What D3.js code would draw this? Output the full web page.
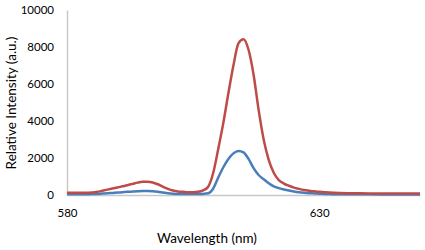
<!DOCTYPE html>
<html>
<head>
<meta charset="utf-8">
<script src="https://cdn.jsdelivr.net/npm/d3@7"></script>
<style>
  body { margin: 0; background: #fff; }
  text { font-family: Lato, "Open Sans", sans-serif; fill: #000; }
</style>
</head>
<body>
<svg id="chart"></svg>
<script>
const wavelengths = [
  580, 581, 582, 583, 584, 585, 586, 587, 588, 589, 590, 591, 592, 593, 594, 595,
  596, 597, 598, 599, 600, 601, 602, 603, 604, 605, 606, 607, 608, 609, 610, 611,
  612, 613, 614, 615, 616, 617, 618, 619, 620, 621, 622, 623, 624, 625, 626, 627,
  628, 629, 630, 631, 632, 633, 634, 636, 638, 640, 645, 650
];
const redSeries = [
  120, 120, 120, 120, 125, 135, 170, 230, 290, 350, 410, 470, 530, 600, 670, 715,
  720, 680, 580, 450, 330, 240, 190, 170, 150, 150, 170, 250, 450, 1200, 2500, 3900,
  5500, 7000, 8200, 8420, 7850, 6500, 4600, 3000, 1900, 1200, 800, 620, 500, 400, 330, 270,
  230, 200, 170, 150, 130, 115, 105, 95, 90, 85, 80, 80
];
const blueSeries = [
  40, 40, 40, 42, 45, 50, 60, 75, 90, 110, 130, 150, 170, 185, 200, 212,
  215, 205, 180, 140, 100, 70, 55, 50, 48, 48, 50, 60, 90, 350, 950, 1500,
  1950, 2250, 2380, 2300, 1950, 1450, 1080, 850, 640, 470, 370, 300, 240, 190, 150, 120,
  100, 85, 70, 60, 50, 45, 40, 38, 35, 35, 30, 30
];
const yTicks = [0, 2000, 4000, 6000, 8000, 10000];
const xTicks = [580, 630];

const width = 425;
const height = 250;
const margin = { top: 10, right: 5, bottom: 55, left: 67 };

const svg = d3.select("#chart").attr("width", width).attr("height", height);

const xScale = d3.scaleLinear()
  .domain([580, 650])
  .range([margin.left, width - margin.right]);

const yScale = d3.scaleLinear()
  .domain([0, 10000])
  .range([height - margin.bottom, margin.top]);

// axes, Excel style: grey lines, no tick marks
svg.append("g")
  .attr("transform", `translate(0, ${yScale(0)})`)
  .call(d3.axisBottom(xScale).tickValues(xTicks).tickSize(0).tickPadding(14).tickFormat(d3.format("d")))
  .call((g) => g.select(".domain").attr("stroke", "#c8c8c8").attr("stroke-width", 1.5))
  .call((g) => g.selectAll("text").attr("font-size", 11.5).style("font-family", "Lato, sans-serif"));

svg.append("g")
  .attr("transform", `translate(${margin.left}, 0)`)
  .call(d3.axisLeft(yScale).tickValues(yTicks).tickSize(0).tickPadding(13).tickFormat(d3.format("d")))
  .call((g) => g.select(".domain").attr("stroke", "#c8c8c8").attr("stroke-width", 1.5))
  .call((g) => g.selectAll("text").attr("font-size", 11.5).style("font-family", "Lato, sans-serif"));

const line = (values) => d3.line()
  .x((d, i) => xScale(wavelengths[i]))
  .y((d) => yScale(d))
  .curve(d3.curveMonotoneX)(values);

svg.append("path")
  .attr("d", line(blueSeries))
  .attr("fill", "none")
  .attr("stroke", "#4a7ebb")
  .attr("stroke-width", 2.5);

svg.append("path")
  .attr("d", line(redSeries))
  .attr("fill", "none")
  .attr("stroke", "#be4b48")
  .attr("stroke-width", 2.5);

svg.append("text")
  .attr("text-anchor", "middle")
  .attr("x", 207)
  .attr("y", 243)
  .attr("font-size", 13.5)
  .text("Wavelength (nm)");

svg.append("text")
  .attr("text-anchor", "middle")
  .attr("transform", `translate(16, 103) rotate(-90)`)
  .attr("font-size", 13.5)
  .text("Relative Intensity (a.u.)");
</script>
</body>
</html>
